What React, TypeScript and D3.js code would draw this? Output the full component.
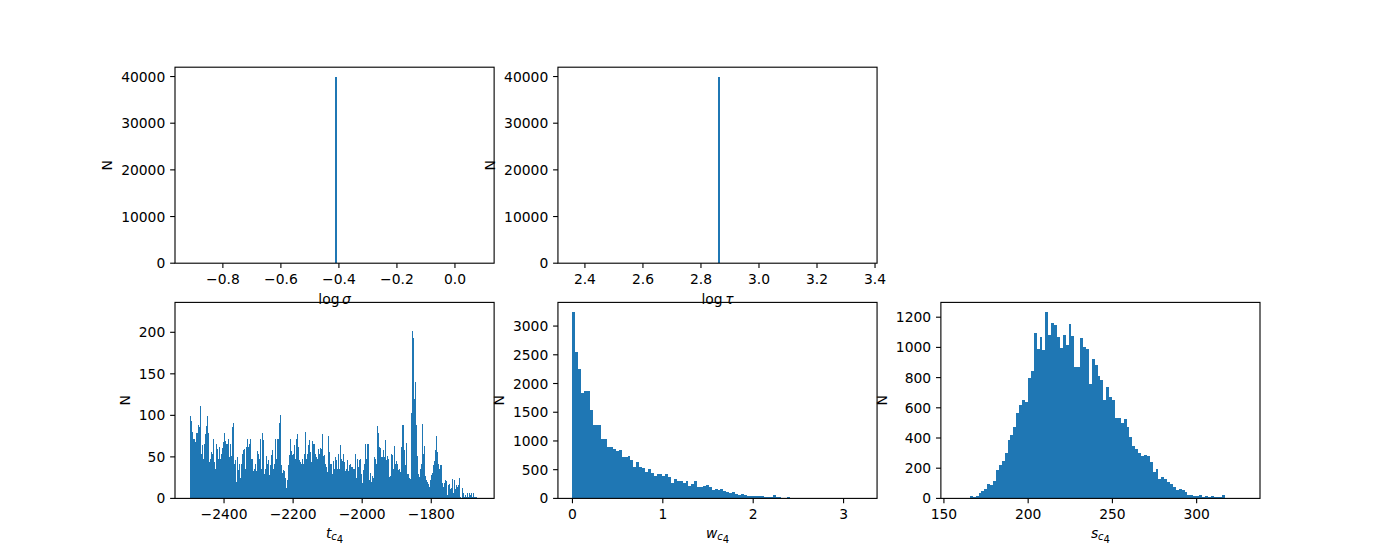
import React from 'react';
import * as d3 from 'd3';

const FIG_W = 1400;
const FIG_H = 560;
const BAR_COLOR = '#1f77b4';
const FONT = "'DejaVu Sans', 'Liberation Sans', sans-serif";
const FS = 13.89;

// ---------------- data ----------------
// log sigma (single occupied bin)
const logSigmaBinStart = -0.415;
const logSigmaBinWidth = 0.01;
const logSigmaCounts = [40000];
const logSigmaXLim = [-0.965, 0.135];
const logSigmaYLim = [0, 42000];
const logSigmaXTicks = [-0.8, -0.6, -0.4, -0.2, 0.0];
const logSigmaYTicks = [0, 10000, 20000, 30000, 40000];

// log tau (single occupied bin)
const logTauBinStart = 2.857;
const logTauBinWidth = 0.01;
const logTauCounts = [40000];
const logTauXLim = [2.307, 3.407];
const logTauYLim = [0, 42000];
const logTauXTicks = [2.4, 2.6, 2.8, 3.0, 3.2, 3.4];
const logTauYTicks = [0, 10000, 20000, 30000, 40000];

// t_c4 (visible columns)
const tc4BinStart = -2500;
const tc4BinEnd = -1669;
const tc4Counts = [
  99, 93, 80, 72, 71, 68, 79, 79, 88, 86,
  111, 54, 64, 48, 66, 77, 87, 99, 79, 44,
  47, 56, 54, 72, 44, 35, 65, 60, 47, 62,
  47, 54, 61, 68, 79, 69, 66, 66, 71, 50,
  66, 51, 86, 91, 42, 46, 20, 50, 34, 41,
  25, 42, 53, 58, 60, 35, 62, 71, 62, 65,
  72, 47, 47, 33, 36, 41, 33, 57, 53, 47,
  71, 36, 79, 70, 29, 35, 51, 42, 46, 28,
  40, 52, 58, 35, 42, 72, 47, 71, 71, 91,
  100, 40, 30, 34,
  33, 24, 13, 22, 40, 52, 71, 57, 52, 53,
  64, 47, 71, 77, 62, 46, 44, 41, 47, 41,
  53, 80, 48, 54, 64, 70, 56, 44, 69, 66,
  65, 53, 50, 47, 59, 54, 61, 59, 77, 51,
  52, 41, 38, 32, 75, 56, 41, 42, 29, 45,
  36, 50, 46, 35, 54, 35, 64, 48, 45, 54,
  44, 33, 35, 46, 33, 40, 41, 38, 38, 36,
  35, 54, 24, 47, 38, 46, 47, 29, 19, 34,
  42, 65, 47, 66, 65, 22, 30, 20, 27, 24,
  50, 47, 41, 87, 79, 62, 61, 50,
  50, 58, 50, 70, 46, 51, 47, 26, 27, 54,
  52, 35, 63, 41, 45, 41, 34, 35, 32, 62,
  88, 88, 58, 40, 67, 29, 29, 24, 23, 103,
  201, 193, 120, 140, 88, 51, 29, 26, 35, 42,
  89, 53, 63, 27, 22, 20, 17, 14, 22, 28,
  30, 40, 45, 58, 75, 56, 41, 35, 40, 40,
  18, 14, 18, 22, 21, 4, 16, 17, 11, 12,
  23, 6, 22, 11, 16, 14, 16, 24, 2, 0,
  12, 6, 2, 4, 2, 6, 2, 7, 4, 6,
  2, 7, 2, 2, 2,
];
const tc4XLim = [-2542, -1618];
const tc4YLim = [0, 236];
const tc4XTicks = [-2400, -2200, -2000, -1800];
const tc4YTicks = [0, 50, 100, 150, 200];

// w_c4
const wc4BinStart = 0;
const wc4BinWidth = 0.0321;
const wc4Counts = [
  3250, 2543, 2247, 1829, 1876, 1864, 1533, 1280, 1280, 1278,
  1028, 1028, 888, 888, 860, 830, 842, 714, 714, 743,
  668, 552, 627, 552, 534, 459, 517, 447, 383, 418,
  418, 383, 418, 366, 261, 331, 296, 296, 261, 296,
  209, 244, 296, 197, 197, 215, 226, 192, 145, 157,
  139, 157, 122, 110, 87, 110, 75, 64, 75, 52,
  41, 35, 35, 46, 35, 35, 23, 23, 23, 52,
  23, 17, 5, 5, 23, 4, 3, 2, 3, 1,
  2, 1, 1, 0, 1, 0, 0, 1, 0, 0,
  0, 1, 0, 0, 0, 0, 0, 0, 0, 1,
];
const wc4XLim = [-0.1605, 3.3705];
const wc4YLim = [0, 3412];
const wc4XTicks = [0, 1, 2, 3];
const wc4YTicks = [0, 500, 1000, 1500, 2000, 2500, 3000];

// s_c4
const sc4BinStart = 156.8;
const sc4BinWidth = 1.722;
const sc4Counts = [
  1, 0, 1, 2, 3,
  13, 9, 13, 33, 46, 60, 93, 86, 113, 186,
  219, 245, 298, 385, 418, 471, 564, 617, 650, 639,
  796, 847, 1094, 990, 1068, 984, 1236, 1081, 1160, 1147,
  1070, 997, 1081, 1015, 1154, 1076, 871, 871, 1063, 1001,
  992, 756, 922, 882, 811, 783, 650, 736, 672, 650,
  533, 533, 499, 524, 471, 404, 349, 329, 298, 278,
  285, 278, 241, 175, 192, 130, 139, 126, 106, 93,
  75, 53, 64, 53, 42, 24, 20, 13, 13, 20,
  7, 13, 9, 13, 9, 9, 7, 22,
  2, 1, 1, 0, 1, 0, 1,
];
const sc4XLim = [148.2, 337.6];
const sc4YLim = [0, 1298];
const sc4XTicks = [150, 200, 250, 300];
const sc4YTicks = [0, 200, 400, 600, 800, 1000, 1200];

// ---------------- layout ----------------
const LEFT = 175;
const RIGHT = 1260;
const AX_W = (RIGHT - LEFT) / 3.4;
const COL_X = [LEFT, LEFT + AX_W * 1.2, LEFT + AX_W * 2.4];
const ROW_Y = [67.2, 302.4];
const AX_H = 196;
const TICK = 4.86;
const PAD = 4.86;
const LW = 1.11;

type LabelPart = { t: string; italic?: boolean; sub?: boolean; dx?: number };

type PanelProps = {
  col: number;
  row: number;
  binStart: number;
  binWidth: number;
  counts: number[];
  xlim: number[];
  ylim: number[];
  xTicks: number[];
  yTicks: number[];
  xFmt: (v: number) => string;
  xLabel: LabelPart[];
};

const Panel: React.FC<PanelProps> = (p) => {
  const x0 = COL_X[p.col];
  const y0 = ROW_Y[p.row];
  const xs = d3.scaleLinear().domain(p.xlim).range([x0, x0 + AX_W]);
  const ys = d3.scaleLinear().domain(p.ylim).range([y0 + AX_H, y0]);
  const bottom = y0 + AX_H;
  const yFmt = d3.format('d');
  const maxLabelLen = d3.max(p.yTicks, (t) => yFmt(t).length) || 1;
  const labelW = maxLabelLen * 0.6362 * FS;
  const yLabelX = x0 - TICK - PAD - labelW - 8.9;

  return (
    <g>
      <g shapeRendering="crispEdges">
        {p.counts.map((c, i) => {
          if (c <= 0) return null;
          const a = p.binStart + i * p.binWidth;
          const b = a + p.binWidth;
          const xa = xs(a);
          const xb = xs(b);
          return (
            <rect
              key={i}
              x={xa}
              y={ys(c)}
              width={Math.max(xb - xa, 0.5)}
              height={bottom - ys(c)}
              fill={BAR_COLOR}
            />
          );
        })}
      </g>
      <rect
        x={x0}
        y={y0}
        width={AX_W}
        height={AX_H}
        fill="none"
        stroke="#000"
        strokeWidth={LW}
      />
      {p.xTicks.map((t) => (
        <g key={'x' + t}>
          <line x1={xs(t)} x2={xs(t)} y1={bottom} y2={bottom + TICK} stroke="#000" strokeWidth={LW} />
          <text x={xs(t)} y={bottom + 20.8} textAnchor="middle" fontSize={FS} fontFamily={FONT} fill="#000">
            {p.xFmt(t)}
          </text>
        </g>
      ))}
      {p.yTicks.map((t) => (
        <g key={'y' + t}>
          <line x1={x0} x2={x0 - TICK} y1={ys(t)} y2={ys(t)} stroke="#000" strokeWidth={LW} />
          <text x={x0 - TICK - PAD} y={ys(t) + 5} textAnchor="end" fontSize={FS} fontFamily={FONT} fill="#000">
            {yFmt(t)}
          </text>
        </g>
      ))}
      <text
        x={x0 + AX_W / 2}
        y={bottom + (p.row === 0 ? 40.5 : 39.2)}
        textAnchor="middle"
        fontSize={FS}
        fontFamily={FONT}
        fill="#000"
      >
        {p.xLabel.map((part, i) => (
          <tspan
            key={i}
            fontStyle={part.italic ? 'italic' : 'normal'}
            fontSize={part.sub ? FS * 0.72 : FS}
            dy={part.sub ? 2.8 : 0}
            dx={part.dx || 0}
          >
            {part.t}
          </tspan>
        ))}
      </text>
      <text
        transform={`translate(${yLabelX},${y0 + AX_H / 2}) rotate(-90)`}
        textAnchor="middle"
        fontSize={FS}
        fontFamily={FONT}
        fill="#000"
      >
        N
      </text>
    </g>
  );
};

const fmt1 = d3.format('.1f');
const fmtInt = d3.format('d');

export default function App() {
  return (
    <svg
      width={FIG_W}
      height={FIG_H}
      style={{ display: 'block', position: 'absolute', left: 0, top: 0, background: '#fff' }}
    >
      <rect x={0} y={0} width={FIG_W} height={FIG_H} fill="#fff" />
      <Panel
        col={0}
        row={0}
        binStart={logSigmaBinStart}
        binWidth={logSigmaBinWidth}
        counts={logSigmaCounts}
        xlim={logSigmaXLim}
        ylim={logSigmaYLim}
        xTicks={logSigmaXTicks}
        yTicks={logSigmaYTicks}
        xFmt={fmt1}
        xLabel={[{ t: 'log' }, { t: 'σ', italic: true, dx: 2.5 }]}
      />
      <Panel
        col={1}
        row={0}
        binStart={logTauBinStart}
        binWidth={logTauBinWidth}
        counts={logTauCounts}
        xlim={logTauXLim}
        ylim={logTauYLim}
        xTicks={logTauXTicks}
        yTicks={logTauYTicks}
        xFmt={fmt1}
        xLabel={[{ t: 'log' }, { t: 'τ', italic: true, dx: 2.5 }]}
      />
      <Panel
        col={0}
        row={1}
        binStart={tc4BinStart}
        binWidth={(tc4BinEnd - tc4BinStart) / tc4Counts.length}
        counts={tc4Counts}
        xlim={tc4XLim}
        ylim={tc4YLim}
        xTicks={tc4XTicks}
        yTicks={tc4YTicks}
        xFmt={fmtInt}
        xLabel={[{ t: 't', italic: true }, { t: 'c', italic: true, sub: true }, { t: '4', sub: true }]}
      />
      <Panel
        col={1}
        row={1}
        binStart={wc4BinStart}
        binWidth={wc4BinWidth}
        counts={wc4Counts}
        xlim={wc4XLim}
        ylim={wc4YLim}
        xTicks={wc4XTicks}
        yTicks={wc4YTicks}
        xFmt={fmtInt}
        xLabel={[{ t: 'w', italic: true }, { t: 'c', italic: true, sub: true }, { t: '4', sub: true }]}
      />
      <Panel
        col={2}
        row={1}
        binStart={sc4BinStart}
        binWidth={sc4BinWidth}
        counts={sc4Counts}
        xlim={sc4XLim}
        ylim={sc4YLim}
        xTicks={sc4XTicks}
        yTicks={sc4YTicks}
        xFmt={fmtInt}
        xLabel={[{ t: 's', italic: true }, { t: 'c', italic: true, sub: true }, { t: '4', sub: true }]}
      />
    </svg>
  );
}
